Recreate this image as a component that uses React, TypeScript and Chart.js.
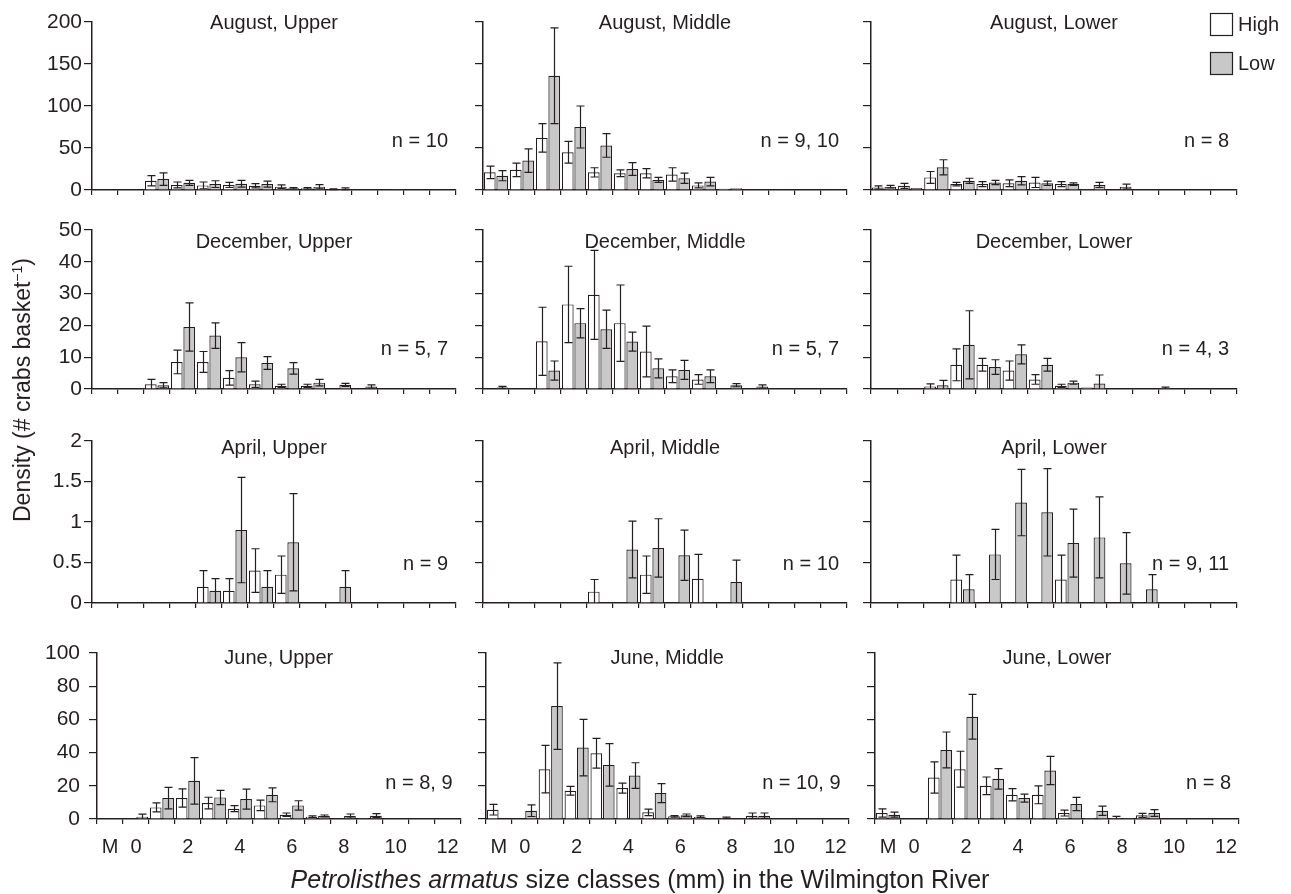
import React, { useEffect, useRef } from 'react';
import { Chart, registerables } from 'chart.js';

Chart.register(...registerables);

const INK = '#231f20';
const GRAY = '#c8c8c8';
const FONT = "'Liberation Sans', Arial, Helvetica, sans-serif";

// ---------- categories & tick labels ----------
const sizeClasses = ['M', '0', '1', '2', '3', '4', '5', '6', '7', '8', '9', '10', '11', '12'];
const labelledClasses = ['M', '0', '2', '4', '6', '8', '10', '12'];
const augustTicks = [0, 50, 100, 150, 200];
const decemberTicks = [0, 10, 20, 30, 40, 50];
const aprilTicks = [0, 0.5, 1, 1.5, 2];
const juneTicks = [0, 20, 40, 60, 80, 100];
const monthNames = ['August', 'December', 'April', 'June'];
const siteNames = ['Upper', 'Middle', 'Lower'];
const sampleSizes = [
  'n = 10', 'n = 9, 10', 'n = 8',
  'n = 5, 7', 'n = 5, 7', 'n = 4, 3',
  'n = 9', 'n = 10', 'n = 9, 11',
  'n = 8, 9', 'n = 10, 9', 'n = 8',
];
const legendLabels = ['High', 'Low'];

// ---------- August ----------
const augustUpperHigh = [0, 0, 11, 6, 5.5, 6, 5, 4, 2, 1, 0.5, 0, 0, 0];
const augustUpperHighErr = [0, 0, 6, 3.5, 4, 3, 2.5, 2, 1, 0.5, 0, 0, 0, 0];
const augustUpperLow = [0, 0, 13, 8.5, 7, 7.5, 7, 2, 4, 1.5, 0, 1, 0, 0];
const augustUpperLowErr = [0, 0, 7.5, 3, 4, 4, 3.5, 1, 2.5, 1, 0, 0, 0, 0];

const augustMiddleHigh = [21, 24, 62, 45, 21, 20, 20, 18.5, 5.5, 1.5, 0, 0, 0, 0];
const augustMiddleHighErr = [7.5, 8, 17, 13, 5.5, 4, 5.5, 8, 3, 0, 0, 0, 0, 0];
const augustMiddleLow = [17, 35, 136, 75, 53, 25, 12, 14, 10, 2, 0, 0, 0, 0];
const augustMiddleLowErr = [6, 14, 57, 25, 14, 7.5, 3, 6, 5, 0, 0, 0, 0, 0];

const augustLowerHigh = [3, 5, 15, 7, 7, 8, 9, 7, 1, 0.5, 0, 0, 0, 0];
const augustLowerHighErr = [2, 3, 7, 2, 3, 4, 6, 3, 0, 0, 0, 0, 0, 0];
const augustLowerLow = [4, 2.5, 27, 11, 9, 11, 8, 7, 6, 4, 0, 0, 0, 0];
const augustLowerLowErr = [1.5, 0, 9, 3, 2.5, 5, 2.5, 1.5, 3, 3, 0, 0, 0, 0];

// ---------- December ----------
const decemberUpperHigh = [0, 0, 1.5, 8.5, 8.5, 3.5, 1.5, 1, 1, 0, 0, 0, 0, 0];
const decemberUpperHighErr = [0, 0, 1.5, 3.7, 3.3, 2.3, 1, 0.5, 0.5, 0, 0, 0, 0, 0];
const decemberUpperLow = [0, 0, 1.2, 19.5, 16.8, 10, 8.2, 6.5, 2, 1.3, 0.8, 0, 0, 0];
const decemberUpperLowErr = [0, 0, 0.8, 7.6, 4, 4.6, 2, 1.8, 1, 0.5, 0.5, 0, 0, 0];

const decemberMiddleHigh = [0, 0, 15, 26.6, 29.6, 20.7, 11.8, 4, 3, 0, 0, 0, 0, 0];
const decemberMiddleHighErr = [0, 0, 10.7, 12, 14, 12, 8, 2, 1.5, 0, 0, 0, 0, 0];
const decemberMiddleLow = [0.5, 0, 5.8, 20.7, 18.8, 14.9, 6.5, 6, 4, 1.2, 0.8, 0, 0, 0];
const decemberMiddleLowErr = [0.3, 0, 3, 4.6, 6, 3, 3, 3, 2, 0.5, 0.5, 0, 0, 0];

const decemberLowerHigh = [0, 0, 0.8, 7.6, 7.6, 5.8, 3, 1, 0.5, 0, 0, 0.3, 0, 0];
const decemberLowerHighErr = [0, 0, 0.8, 5, 2, 3, 1.5, 0.5, 0, 0, 0, 0.3, 0, 0];
const decemberLowerLow = [0, 0, 1.2, 13.9, 6.9, 10.9, 7.6, 2, 1.7, 0, 0, 0, 0, 0];
const decemberLowerLowErr = [0, 0, 1.5, 10.7, 2.3, 3, 2, 0.5, 2.7, 0, 0, 0, 0, 0];

// ---------- April ----------
const aprilUpperHigh = [0, 0, 0, 0, 0.2, 0.15, 0.4, 0.35, 0, 0, 0, 0, 0, 0];
const aprilUpperHighErr = [0, 0, 0, 0, 0.2, 0.15, 0.27, 0.23, 0, 0, 0, 0, 0, 0];
const aprilUpperLow = [0, 0, 0, 0, 0.15, 0.9, 0.2, 0.75, 0, 0.2, 0, 0, 0, 0];
const aprilUpperLowErr = [0, 0, 0, 0, 0.15, 0.65, 0.2, 0.6, 0, 0.2, 0, 0, 0, 0];

const aprilMiddleHigh = [0, 0, 0, 0, 0.14, 0, 0.35, 0, 0.3, 0, 0, 0, 0, 0];
const aprilMiddleHighErr = [0, 0, 0, 0, 0.15, 0, 0.23, 0, 0.3, 0, 0, 0, 0, 0];
const aprilMiddleLow = [0, 0, 0, 0, 0, 0.66, 0.68, 0.59, 0, 0.26, 0, 0, 0, 0];
const aprilMiddleLowErr = [0, 0, 0, 0, 0, 0.35, 0.36, 0.31, 0, 0.27, 0, 0, 0, 0];

const aprilLowerHigh = [0, 0, 0, 0.29, 0, 0, 0, 0.29, 0, 0, 0, 0, 0, 0];
const aprilLowerHighErr = [0, 0, 0, 0.3, 0, 0, 0, 0.3, 0, 0, 0, 0, 0, 0];
const aprilLowerLow = [0, 0, 0, 0.17, 0.6, 1.24, 1.12, 0.74, 0.81, 0.49, 0.17, 0, 0, 0];
const aprilLowerLowErr = [0, 0, 0, 0.18, 0.31, 0.41, 0.54, 0.42, 0.5, 0.38, 0.18, 0, 0, 0];

// ---------- June ----------
const juneUpperHigh = [0, 0, 7, 12.6, 9.6, 6.2, 8.2, 2.6, 1.4, 0, 0.4, 0, 0, 0];
const juneUpperHighErr = [0, 0, 2.7, 5.5, 3.5, 1.8, 3.2, 1, 0.5, 0, 0, 0, 0, 0];
const juneUpperLow = [0, 1.4, 12.6, 23, 13, 12, 14.6, 8.2, 1.8, 1.8, 2, 0.3, 0, 0];
const juneUpperLowErr = [0, 1.5, 6.5, 14, 4.3, 6, 4.2, 2.8, 0.6, 1.2, 1.2, 0, 0, 0];

const juneMiddleHigh = [5.6, 0, 30, 17, 39.6, 18.6, 4, 1.6, 1.4, 0.8, 2, 0, 0, 0];
const juneMiddleHighErr = [3.2, 0, 14.3, 2.6, 9, 3, 2, 0.5, 0.5, 0.4, 1.6, 0, 0, 0];
const juneMiddleLow = [0, 5, 68, 43, 32.6, 26.2, 15.6, 2.2, 0, 0, 2, 0.3, 0, 0];
const juneMiddleLowErr = [0, 3.5, 26, 17, 12.8, 7.7, 5.7, 0.8, 0, 0, 1.6, 0, 0, 0];

const juneLowerHigh = [3.6, 0, 25, 30, 20, 14.6, 14.6, 3.6, 0.6, 0.6, 2.2, 0, 0, 0];
const juneLowerHighErr = [2.5, 0, 9.4, 10.8, 5.3, 3.7, 5.4, 1.8, 0, 1, 1.2, 0, 0, 0];
const juneLowerLow = [2.6, 0, 41.6, 61.6, 24.2, 12.6, 29.2, 9, 5, 0.6, 3.6, 0.3, 0, 0];
const juneLowerLowErr = [1.5, 0, 10.8, 13.5, 6.2, 2.4, 8.5, 4, 2.8, 0, 2, 0, 0, 0];

// ---------- tables built from the arrays ----------
const monthTicks = [augustTicks, decemberTicks, aprilTicks, juneTicks];
const panelSeries = [
  [augustUpperHigh, augustUpperHighErr, augustUpperLow, augustUpperLowErr],
  [augustMiddleHigh, augustMiddleHighErr, augustMiddleLow, augustMiddleLowErr],
  [augustLowerHigh, augustLowerHighErr, augustLowerLow, augustLowerLowErr],
  [decemberUpperHigh, decemberUpperHighErr, decemberUpperLow, decemberUpperLowErr],
  [decemberMiddleHigh, decemberMiddleHighErr, decemberMiddleLow, decemberMiddleLowErr],
  [decemberLowerHigh, decemberLowerHighErr, decemberLowerLow, decemberLowerLowErr],
  [aprilUpperHigh, aprilUpperHighErr, aprilUpperLow, aprilUpperLowErr],
  [aprilMiddleHigh, aprilMiddleHighErr, aprilMiddleLow, aprilMiddleLowErr],
  [aprilLowerHigh, aprilLowerHighErr, aprilLowerLow, aprilLowerLowErr],
  [juneUpperHigh, juneUpperHighErr, juneUpperLow, juneUpperLowErr],
  [juneMiddleHigh, juneMiddleHighErr, juneMiddleLow, juneMiddleLowErr],
  [juneLowerHigh, juneLowerHighErr, juneLowerLow, juneLowerLowErr],
];

// ---------- layout (page pixels) ----------
const rowLayout = [
  { top: 22, bottom: 190, titleDy: 1, nDy: 119 },
  { top: 230, bottom: 389, titleDy: 12, nDy: 119 },
  { top: 441, bottom: 603, titleDy: 7, nDy: 123 },
  { top: 653, bottom: 819, titleDy: 5, nDy: 130 },
];
const colLayout = [[92, 456], [483, 847], [871, 1237]];
const colLayoutBottom = [[97, 462], [486, 850], [875, 1239]];

const errorBars = {
  id: 'errorBars',
  afterDatasetsDraw(chart: any) {
    const ctx = chart.ctx;
    const ys = chart.scales.y;
    ctx.save();
    ctx.strokeStyle = INK;
    ctx.lineWidth = 1.2;
    chart.data.datasets.forEach((ds: any, di: number) => {
      const meta = chart.getDatasetMeta(di);
      meta.data.forEach((bar: any, i: number) => {
        const v = ds.data[i];
        const e = ds.errors[i];
        if (!e) return;
        const x = Math.round(bar.x) + 0.5;
        const y1 = ys.getPixelForValue(v + e);
        const y0 = ys.getPixelForValue(Math.max(0, v - e));
        const hw = 4;
        ctx.beginPath();
        ctx.moveTo(x, y0);
        ctx.lineTo(x, y1);
        ctx.moveTo(x - hw, y1);
        ctx.lineTo(x + hw, y1);
        if (v - e > 0) {
          ctx.moveTo(x - hw, y0);
          ctx.lineTo(x + hw, y0);
        }
        ctx.stroke();
      });
    });
    ctx.restore();
  },
};

function Panel({ index }: { index: number }) {
  const ref = useRef<HTMLCanvasElement>(null);
  const row = Math.floor(index / 3);
  const col = index % 3;
  const rl = rowLayout[row];
  const cl = (row === 3 ? colLayoutBottom : colLayout)[col];
  const T = row === 0 ? 22 : 30;
  const LW = col === 0 ? 66 : 14;
  const R = col === 2 ? 54 : 8;
  const B = row === 3 ? 48 : 16;
  const plotW = cl[1] - cl[0];
  const plotH = rl.bottom - rl.top;
  const W = LW + plotW + R;
  const H = T + plotH + B;
  const left = cl[0] - LW;
  const top = rl.top - T;

  useEffect(() => {
    const canvas = ref.current;
    if (!canvas) return;
    const [high, highErr, low, lowErr] = panelSeries[index];
    const ticks = monthTicks[row];
    const title = `${monthNames[row]}, ${siteNames[col]}`;
    const nText = sampleSizes[index];

    const textPlugin = {
      id: 'panelText',
      afterDraw(chart: any) {
        const ctx = chart.ctx;
        const a = chart.chartArea;
        ctx.save();
        ctx.fillStyle = INK;
        ctx.font = `20px ${FONT}`;
        ctx.textBaseline = 'middle';
        ctx.textAlign = 'center';
        ctx.fillText(title, (a.left + a.right) / 2, a.top + rl.titleDy);
        ctx.textAlign = 'right';
        ctx.fillText(nText, a.right - 8, a.top + rl.nDy);
        if (index === 2) {
          const boxes = [
            { y: 13, fill: '#ffffff' },
            { y: 52, fill: GRAY },
          ];
          boxes.forEach((b, k) => {
            const bx = 1210 - left;
            const by = b.y - top;
            ctx.fillStyle = b.fill;
            ctx.fillRect(bx, by, 22, 22);
            ctx.strokeStyle = INK;
            ctx.lineWidth = 1.2;
            ctx.strokeRect(bx + 0.5, by + 0.5, 22, 22);
            ctx.fillStyle = INK;
            ctx.textAlign = 'left';
            ctx.fillText(legendLabels[k], 1238 - left, by + 12);
          });
        }
        ctx.restore();
      },
    };

    const chart = new Chart(canvas, {
      type: 'bar',
      data: {
        labels: sizeClasses,
        datasets: [
          {
            label: legendLabels[0],
            data: high,
            errors: highErr,
            backgroundColor: '#ffffff',
            borderColor: INK,
            borderWidth: 1.2,
            categoryPercentage: 0.96,
            barPercentage: 0.94,
          } as any,
          {
            label: legendLabels[1],
            data: low,
            errors: lowErr,
            backgroundColor: GRAY,
            borderColor: INK,
            borderWidth: 1.2,
            categoryPercentage: 0.96,
            barPercentage: 0.94,
          } as any,
        ],
      },
      options: {
        responsive: false,
        maintainAspectRatio: false,
        animation: false,
        devicePixelRatio: 1,
        layout: { padding: { top: T, right: R, left: 0, bottom: 0 } },
        plugins: {
          legend: { display: false },
          tooltip: { enabled: false },
          title: { display: false },
        },
        scales: {
          x: {
            type: 'category',
            offset: true,
            grid: {
              offset: true,
              drawOnChartArea: false,
              drawTicks: true,
              tickLength: 5,
              color: INK,
              lineWidth: 1.2,
            },
            border: { display: true, color: INK, width: 1.5 },
            ticks: {
              display: row === 3,
              autoSkip: false,
              maxRotation: 0,
              minRotation: 0,
              padding: 11,
              color: INK,
              font: { family: FONT, size: 20 },
              callback: (_v: any, i: number) =>
                labelledClasses.includes(sizeClasses[i]) ? sizeClasses[i] : '',
            },
            afterFit: (s: any) => {
              s.height = B;
            },
          },
          y: {
            min: ticks[0],
            max: ticks[ticks.length - 1],
            afterBuildTicks: (s: any) => {
              s.ticks = ticks.map((v) => ({ value: v }));
            },
            grid: {
              drawOnChartArea: false,
              drawTicks: true,
              tickLength: 8,
              color: INK,
              lineWidth: 1.2,
            },
            border: { display: true, color: INK, width: 1.5 },
            ticks: {
              display: col === 0,
              padding: row === 3 ? 9 : 2,
              color: INK,
              font: { family: FONT, size: 21 },
              callback: (v: any) => String(v),
            },
            afterFit: (s: any) => {
              s.width = LW;
            },
          },
        },
      } as any,
      plugins: [errorBars, textPlugin],
    });
    return () => chart.destroy();
  }, []);

  return (
    <canvas
      ref={ref}
      width={W}
      height={H}
      style={{ position: 'absolute', left, top, width: W, height: H }}
    />
  );
}

export default function App() {
  return (
    <div
      style={{
        position: 'absolute',
        left: 0,
        top: 0,
        width: 1291,
        height: 894,
        background: '#ffffff',
        overflow: 'hidden',
        fontFamily: FONT,
        color: INK,
      }}
    >
      {panelSeries.map((_, i) => (
        <Panel key={i} index={i} />
      ))}
      <div
        style={{
          position: 'absolute',
          left: 22,
          top: 390,
          transform: 'translate(-50%, -50%) rotate(-90deg)',
          whiteSpace: 'nowrap',
          fontSize: 23,
          lineHeight: '24px',
        }}
      >
        Density (# crabs basket
        <span style={{ fontSize: 14, verticalAlign: 'top', lineHeight: '14px' }}>−1</span>)
      </div>
      <div
        style={{
          position: 'absolute',
          left: 640,
          top: 879,
          transform: 'translate(-50%, -50%)',
          whiteSpace: 'nowrap',
          fontSize: 25,
          lineHeight: '28px',
        }}
      >
        <i>Petrolisthes armatus</i> size classes (mm) in the Wilmington River
      </div>
    </div>
  );
}
